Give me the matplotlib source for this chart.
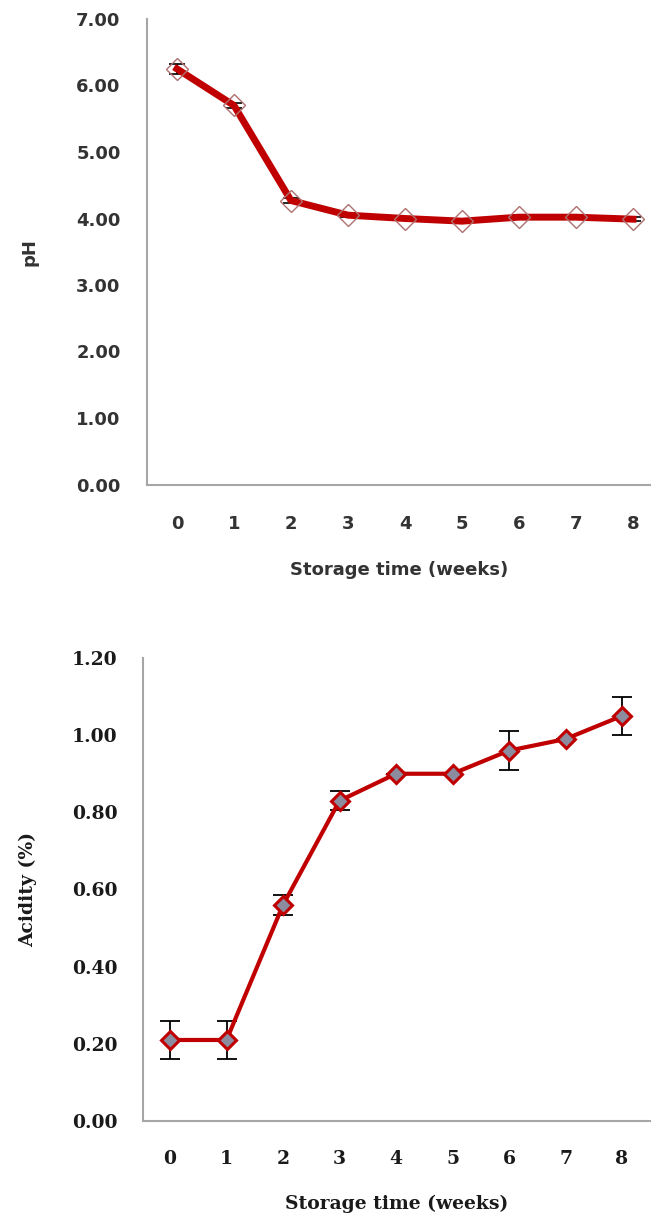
import matplotlib
matplotlib.use("Agg")
import matplotlib.pyplot as plt

weeks = [0, 1, 2, 3, 4, 5, 6, 7, 8]
ph_values = [6.25, 5.70, 4.27, 4.05, 4.00, 3.96, 4.02, 4.02, 3.99]
ph_err = [0.08, 0.04, 0.04, 0.03, 0.03, 0.03, 0.03, 0.03, 0.03]
acidity_values = [0.21, 0.21, 0.56, 0.83, 0.90, 0.90, 0.96, 0.99, 1.05]
acidity_err = [0.05, 0.05, 0.025, 0.025, 0.0, 0.0, 0.05, 0.0, 0.05]
ph_ticks = [0, 1, 2, 3, 4, 5, 6, 7]
acid_ticks = [0.0, 0.2, 0.4, 0.6, 0.8, 1.0, 1.2]

W, H = 651, 1223
fig = plt.figure(figsize=(W / 100, H / 100), dpi=100)

def frac(l, r, t, b):
    return [l / W, (H - b) / H, (r - l) / W, (b - t) / H]

spine_col = "#A6A6A6"
red = "#C00000"

# ---- top: pH ----
ax1 = fig.add_axes(frac(147, 651, 19, 484.5))
ax1.errorbar(weeks, ph_values, yerr=ph_err, fmt="none", ecolor="black",
             elinewidth=1.2, capsize=6, capthick=1.2, zorder=2)
ax1.plot(weeks, ph_values, color=red, lw=5, zorder=3, solid_joinstyle="round")
ax1.plot(weeks, ph_values, linestyle="none", marker="D", markersize=11,
         markerfacecolor="none", markeredgecolor="#B07070", markeredgewidth=1.0, zorder=4)
ax1.set_xlim(-0.526, 8.316)
ax1.set_ylim(0, 7)
ax1.set_yticks(ph_ticks)
ax1.set_yticklabels([f"{v:.2f}" for v in ph_ticks])
ax1.set_xticks(weeks)
ax1.set_xticklabels([str(w) for w in weeks])
top_fam = ["DejaVu Sans"]
font_top = dict(family=top_fam, weight="bold")
for lab in ax1.get_xticklabels() + ax1.get_yticklabels():
    lab.set_fontfamily(top_fam)
    lab.set_fontweight("bold")
    lab.set_fontsize(13)
    lab.set_color("#333333")
ax1.tick_params(axis="both", length=0)
ax1.tick_params(axis="y", pad=19)
ax1.tick_params(axis="x", pad=22)
ax1.set_xlabel("Storage time (weeks)", fontsize=13, labelpad=20, color="#333333", **font_top)
ax1.set_ylabel("pH", fontsize=13, labelpad=27, color="#333333", **font_top)
for s in ["top", "right"]:
    ax1.spines[s].set_visible(False)
for s in ["left", "bottom"]:
    ax1.spines[s].set_color(spine_col)
    ax1.spines[s].set_linewidth(1.5)

# ---- bottom: acidity ----
ax2 = fig.add_axes(frac(143, 651, 658, 1121))
ax2.errorbar(weeks, acidity_values, yerr=acidity_err, fmt="none", ecolor="black",
             elinewidth=1.3, capsize=7, capthick=1.3, zorder=2)
ax2.plot(weeks, acidity_values, color=red, lw=3, zorder=3)
ax2.plot(weeks, acidity_values, linestyle="none", marker="D", markersize=9,
         markerfacecolor="#8C8CA0", markeredgecolor=red, markeredgewidth=2.2, zorder=4)
ax2.set_xlim(-0.478, 8.513)
ax2.set_ylim(0, 1.2)
ax2.set_yticks(acid_ticks)
ax2.set_yticklabels([f"{v:.2f}" for v in acid_ticks])
ax2.set_xticks(weeks)
ax2.set_xticklabels([str(w) for w in weeks])
bot_fam = ["DejaVu Serif"]
font_bot = dict(family=bot_fam, weight="bold")
for lab in ax2.get_xticklabels() + ax2.get_yticklabels():
    lab.set_fontfamily(bot_fam)
    lab.set_fontweight("bold")
    lab.set_fontsize(13.5)
    lab.set_color("#1a1a1a")
ax2.tick_params(axis="both", length=0)
ax2.tick_params(axis="y", pad=18.5)
ax2.tick_params(axis="x", pad=21)
ax2.set_xlabel("Storage time (weeks)", fontsize=13.5, labelpad=19, color="#1a1a1a", **font_bot)
ax2.set_ylabel("Acidity (%)", fontsize=13.5, labelpad=25, color="#1a1a1a", **font_bot)
for s in ["top", "right"]:
    ax2.spines[s].set_visible(False)
for s in ["left", "bottom"]:
    ax2.spines[s].set_color(spine_col)
    ax2.spines[s].set_linewidth(1.5)

fig.savefig("out.png", dpi=100, facecolor="white")
